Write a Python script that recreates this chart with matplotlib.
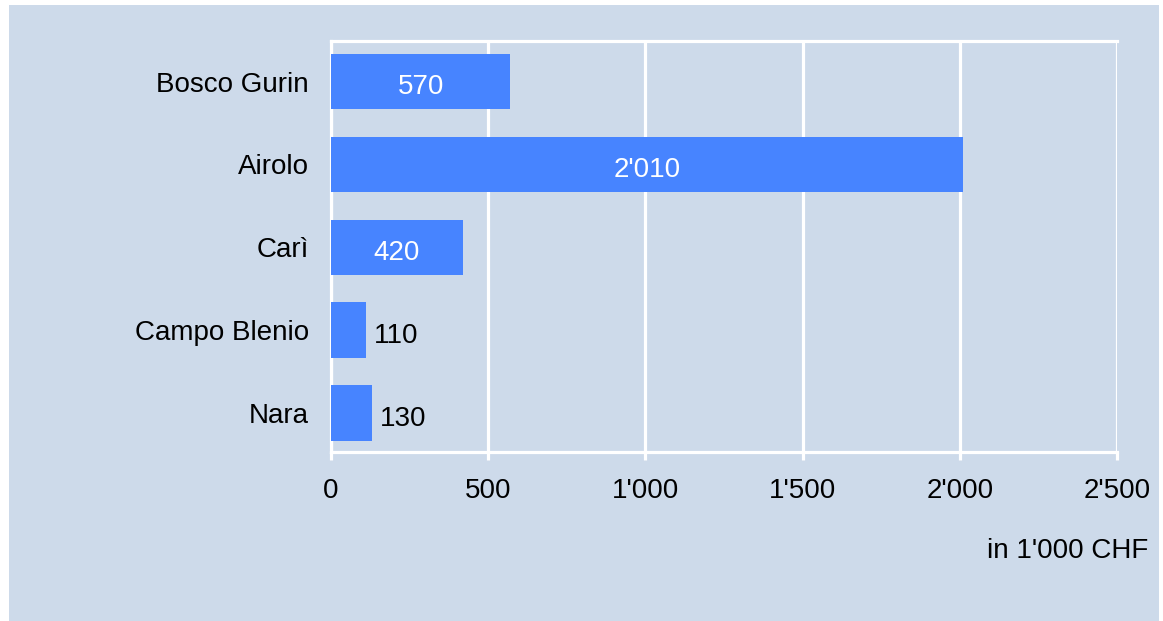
import matplotlib.pyplot as plt
from matplotlib.patches import Rectangle
from matplotlib.ticker import FuncFormatter
from matplotlib.transforms import ScaledTranslation

plt.rcParams["font.family"] = ["Liberation Sans", "DejaVu Sans"]

places = ["Bosco Gurin", "Airolo", "Carì", "Campo Blenio", "Nara"]
amounts = [570, 2010, 420, 110, 130]
unit_label = "in 1'000 CHF"

BG = "#cddaea"
BAR = "#4784ff"
FS = 20


def swiss(v):
    return f"{int(v):,}".replace(",", "'")


fig = plt.figure(figsize=(11.63, 6.21), dpi=100, facecolor="white")
fig.patches.append(Rectangle((9 / 1163, 0), 1150 / 1163, 616 / 621,
                             transform=fig.transFigure, facecolor=BG,
                             edgecolor="none", zorder=-1))

ax = fig.add_axes([331 / 1163, 1 - 452 / 621, 786 / 1163, 411 / 621])
ax.set_facecolor(BG)

ypos = list(range(len(places)))[::-1]
bars = ax.barh(ypos, amounts, height=0.67, color=BAR, zorder=3)

# nudge text a couple of pixels down so it sits optically centred
nudge = ScaledTranslation(0, -2.5 / 100, fig.dpi_scale_trans)

for b, v in zip(bars, amounts):
    yc = b.get_y() + b.get_height() / 2
    if v > 300:
        ax.text(v / 2, yc, swiss(v), ha="center", va="center_baseline",
                color="white", fontsize=FS, zorder=4,
                transform=ax.transData + nudge)
    else:
        ax.annotate(swiss(v), (v, yc), xytext=(8, -2.5), textcoords="offset pixels",
                    ha="left", va="center_baseline", color="black",
                    fontsize=FS, zorder=4)

ax.set_xlim(0, 2500)
ax.set_ylim(-0.47, 4.49)
ax.set_xticks([0, 500, 1000, 1500, 2000, 2500])
ax.xaxis.set_major_formatter(FuncFormatter(lambda v, _: swiss(v)))
ax.set_yticks(ypos)
ax.set_yticklabels(places, va="center_baseline")
for lbl in ax.get_yticklabels():
    lbl.set_transform(lbl.get_transform() + nudge)

ax.grid(axis="x", color="white", linewidth=2.3, zorder=1)
ax.set_axisbelow(True)
for s in ax.spines.values():
    s.set_color("white")
    s.set_linewidth(2.3)
ax.spines["right"].set_visible(False)

ax.tick_params(axis="x", length=6, width=2.3, color="white", pad=13,
               labelsize=FS)
ax.tick_params(axis="y", length=0, pad=16, labelsize=FS)

fig.text(1148 / 1163, 1 - 548 / 621, unit_label, ha="right",
         va="center_baseline", fontsize=FS)

fig.savefig("out.png", dpi=100, facecolor=fig.get_facecolor())
